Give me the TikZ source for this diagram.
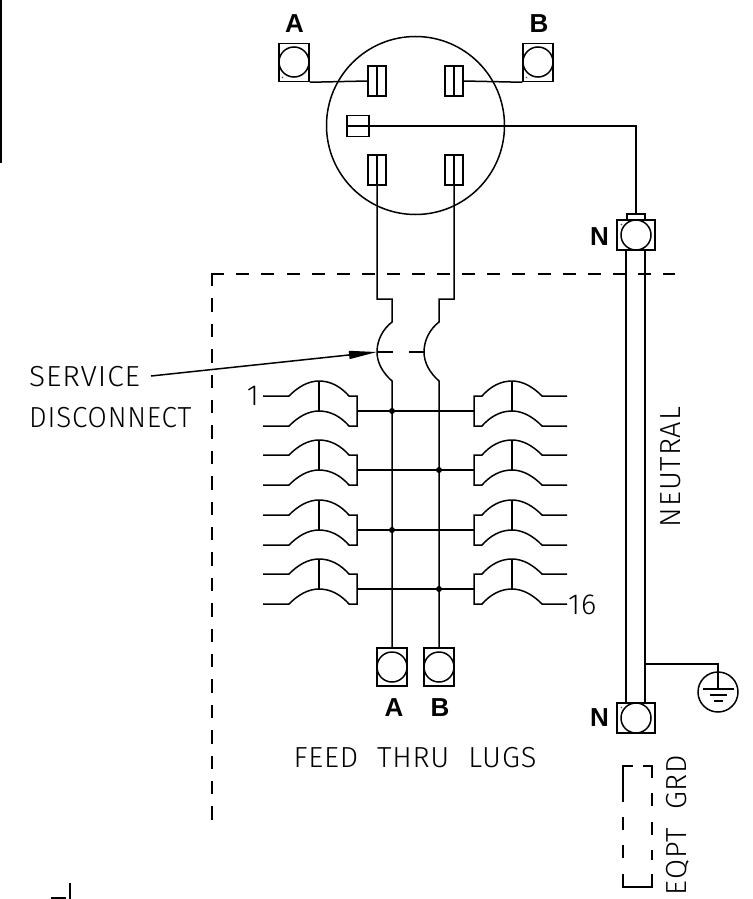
\documentclass[tikz,border=0pt]{standalone}
\usepackage{fontspec}
\setmainfont{Liberation Sans}
\newfontfamily\cadfont[LetterSpace=3]{Fira Sans Light}
\usetikzlibrary{arrows.meta}
\tikzset{
  wire/.style={draw=black,line width=1.5pt,line join=miter},
  cadtext/.style={inner sep=0pt,font=\cadfont\fontsize{29}{29}\selectfont,text=black},
  bold/.style={inner sep=0pt,font=\bfseries\fontsize{26}{26}\selectfont},
  fenceh/.style={wire,dash pattern=on 13pt off 12.1pt},
  fencev/.style={wire,dash pattern=on 13.4pt off 12pt},
  dotjoin/.style={circle,fill=black,inner sep=0pt,minimum size=6pt},
  lugring/.style={circle,wire,minimum size=30pt,inner sep=0pt},
  lugbox/.style={wire,inner sep=0pt,minimum width=30pt,minimum height=38pt},
  jawbox/.style={wire,inner sep=0pt,minimum width=18pt,minimum height=30pt},
  speck/.style={fill=black!70}
}
\newcommand{\breakerleft}[1]{%
  \begin{scope}[yshift=-#1pt]
    \draw[wire] (263,396) -- (289,396) .. controls (298,387) and (308,381) .. (319,381) .. controls (331,381) and (341,387) .. (349,396) -- (357,396) -- (357,426) -- (349,426) .. controls (341,417) and (331,411) .. (319,411) .. controls (308,411) and (298,417) .. (289,426) -- (263,426);
    \draw[wire] (319,381) -- (319,411);
  \end{scope}}
\newcommand{\breakerright}[1]{%
  \begin{scope}[yshift=-#1pt]
    \draw[wire] (567,396) -- (542,396) .. controls (533,387) and (523,381) .. (512,381) .. controls (500,381) and (490,387) .. (482,396) -- (474,396) -- (474,426) -- (482,426) .. controls (490,417) and (500,411) .. (512,411) .. controls (523,411) and (533,417) .. (542,426) -- (567,426);
    \draw[wire] (512,381) -- (512,411);
  \end{scope}}
\begin{document}
\begin{tikzpicture}[x=1pt,y=-1pt]
\useasboundingbox (0,0) rectangle (752,899);
% edge fragments
\draw[wire] (1,0) -- (1,162.5) -- (0,162.5);
\draw[wire] (51,898) -- (66,898);
\draw[wire] (70,883) -- (70,899);
% meter
\node[circle,wire,minimum size=178pt,inner sep=0pt] (meter) at (415.5,125.5) {};
\node[jawbox] (j1) at (377,81) {};
\node[jawbox] (j2) at (454,81) {};
\node[jawbox] (j3) at (377,170) {};
\node[jawbox] (j4) at (454,170) {};
\node[wire,inner sep=0pt,minimum width=22pt,minimum height=21pt] (jn) at (358,126) {};
\draw[wire] (j1.north) -- (j1.south);
\draw[wire] (j2.north) -- (j2.south);
\draw[wire] (j3.north) -- (j3.south);
\draw[wire] (j4.north) -- (j4.south);
% top lugs
\node[lugbox] (la) at (294,62.5) {};
\node[lugring] (lar) at (294,62) {};
\node[lugbox] (lb) at (538,62.5) {};
\node[lugring] (lbr) at (538,62) {};
\fill[speck] (282.5,77.5) circle (0.8pt);
\fill[speck] (526.5,77.5) circle (0.8pt);
\node[bold] (ta) at (294.5,24) {A};
\node[bold] (tb) at (539,24) {B};
\draw[wire] (la.south east) -- (j1.west);
\draw[wire] (j2.east) -- (lb.south west);
% neutral
\node[wire,inner sep=0pt,minimum width=18pt,minimum height=6pt] (nc) at (636,217) {};
\node[wire,inner sep=0pt,minimum width=38pt,minimum height=30pt] (nt) at (636,235) {};
\node[lugring] (ntr) at (636,235) {};
\node[wire,inner sep=0pt,minimum width=38pt,minimum height=30pt] (nb) at (636,718) {};
\node[lugring] (nbr) at (636,718) {};
\fill[speck] (621.5,224.5) circle (0.8pt);
\fill[speck] (621.5,707.5) circle (0.8pt);
\draw[wire] (jn.west) -- (jn.east) -- (636,126) -- (nc.north);
\coordinate (bar1t) at (626,250);\coordinate (bar1b) at (626,703);
\coordinate (bar2t) at (645,250);\coordinate (bar2b) at (645,703);
\draw[wire] (bar1t) -- (bar1b);
\draw[wire] (bar2t) -- (bar2b);
\node[bold] (n1) at (599.5,236.5) {N};
\node[bold] (n2) at (599.5,718) {N};
% ground
\node[circle,wire,minimum size=40pt,inner sep=0pt] (gnd) at (718,692) {};
\coordinate (g0) at (645,664);
\draw[wire] (g0) -- (718,664) -- (718,689);
\draw[wire] (703,689) -- (734,689);
\draw[wire] (710,695) -- (727,695);
\draw[wire] (714,701) -- (723,701);
% dashed enclosure
\draw[fenceh] (211.25,274) -- (675,274);
\draw[fencev] (212,273) -- (212,822);
% disconnect and buses
\node[wire,inner sep=0pt,minimum width=30pt,minimum height=38pt] (ba) at (392,667) {};
\node[wire,inner sep=0pt,minimum width=30pt,minimum height=38pt] (bb) at (439,667) {};
\node[lugring] (bar) at (392,667) {};
\node[lugring] (bbr) at (439,667) {};
\draw[wire] (j3.south) -- (377,299) -- (392,299) -- (392,322) .. controls (383,329) and (377,340) .. (377,352) .. controls (377,363) and (383,373) .. (392,381) -- (ba.north);
\draw[wire] (j4.south) -- (454,299) -- (439,299) -- (439,322) .. controls (430,329) and (424,340) .. (424,352) .. controls (424,363) and (430,373) .. (439,381) -- (bb.north);
\draw[wire] (377,352) -- (393,352);
\draw[wire] (409,352) -- (424,352);
\node[cadtext,anchor=west] (sv) at (29,377) {\scalebox{1.03}[1]{SERVICE}};
\node[cadtext,anchor=west] (dc) at (29,418) {\scalebox{0.96}[1]{DISCONNECT}};
\coordinate (arrowstart) at (151,376);
\coordinate (arrowend) at (377,352);
\draw[wire,-{Triangle[length=28pt,width=8pt]}] (arrowstart) -- (arrowend);
% breakers
\foreach \r in {0,59,119,178}{
  \breakerleft{\r}
  \breakerright{\r}
  \draw[wire] (357,411+\r) -- (474,411+\r);
}
\node[dotjoin] (d1) at (392,411) {};
\node[dotjoin] (d2) at (439,470) {};
\node[dotjoin] (d3) at (392,530) {};
\node[dotjoin] (d4) at (439,589) {};
\node[cadtext,anchor=east] (one) at (259,396) {1};
\node[cadtext,anchor=west] (sixteen) at (568,605) {16};
\node[bold] (ba2) at (394,708) {A};
\node[bold] (bb2) at (440,708) {B};
\node[cadtext] (feed) at (415,758) {FEED\hspace{10pt} THRU\hspace{10pt} LUGS};
\node[cadtext,rotate=90] (neu) at (671,467) {NEUTRAL};
\node[cadtext,rotate=90] (eq) at (678,825) {EQPT\hspace{9pt} GRD};
% EQPT GRD bracket
\draw[wire] (633,766) -- (623,766) -- (623,802);
\draw[wire] (623,817) -- (623,830);
\draw[wire] (623,845) -- (623,858);
\draw[wire] (623,874) -- (623,887) -- (652,887) -- (652,874);
\draw[wire] (643,766) -- (652,766) -- (652,778);
\draw[wire] (652,793) -- (652,806);
\draw[wire] (652,822) -- (652,835);
\draw[wire] (652,850) -- (652,860);
\end{tikzpicture}
\end{document}
